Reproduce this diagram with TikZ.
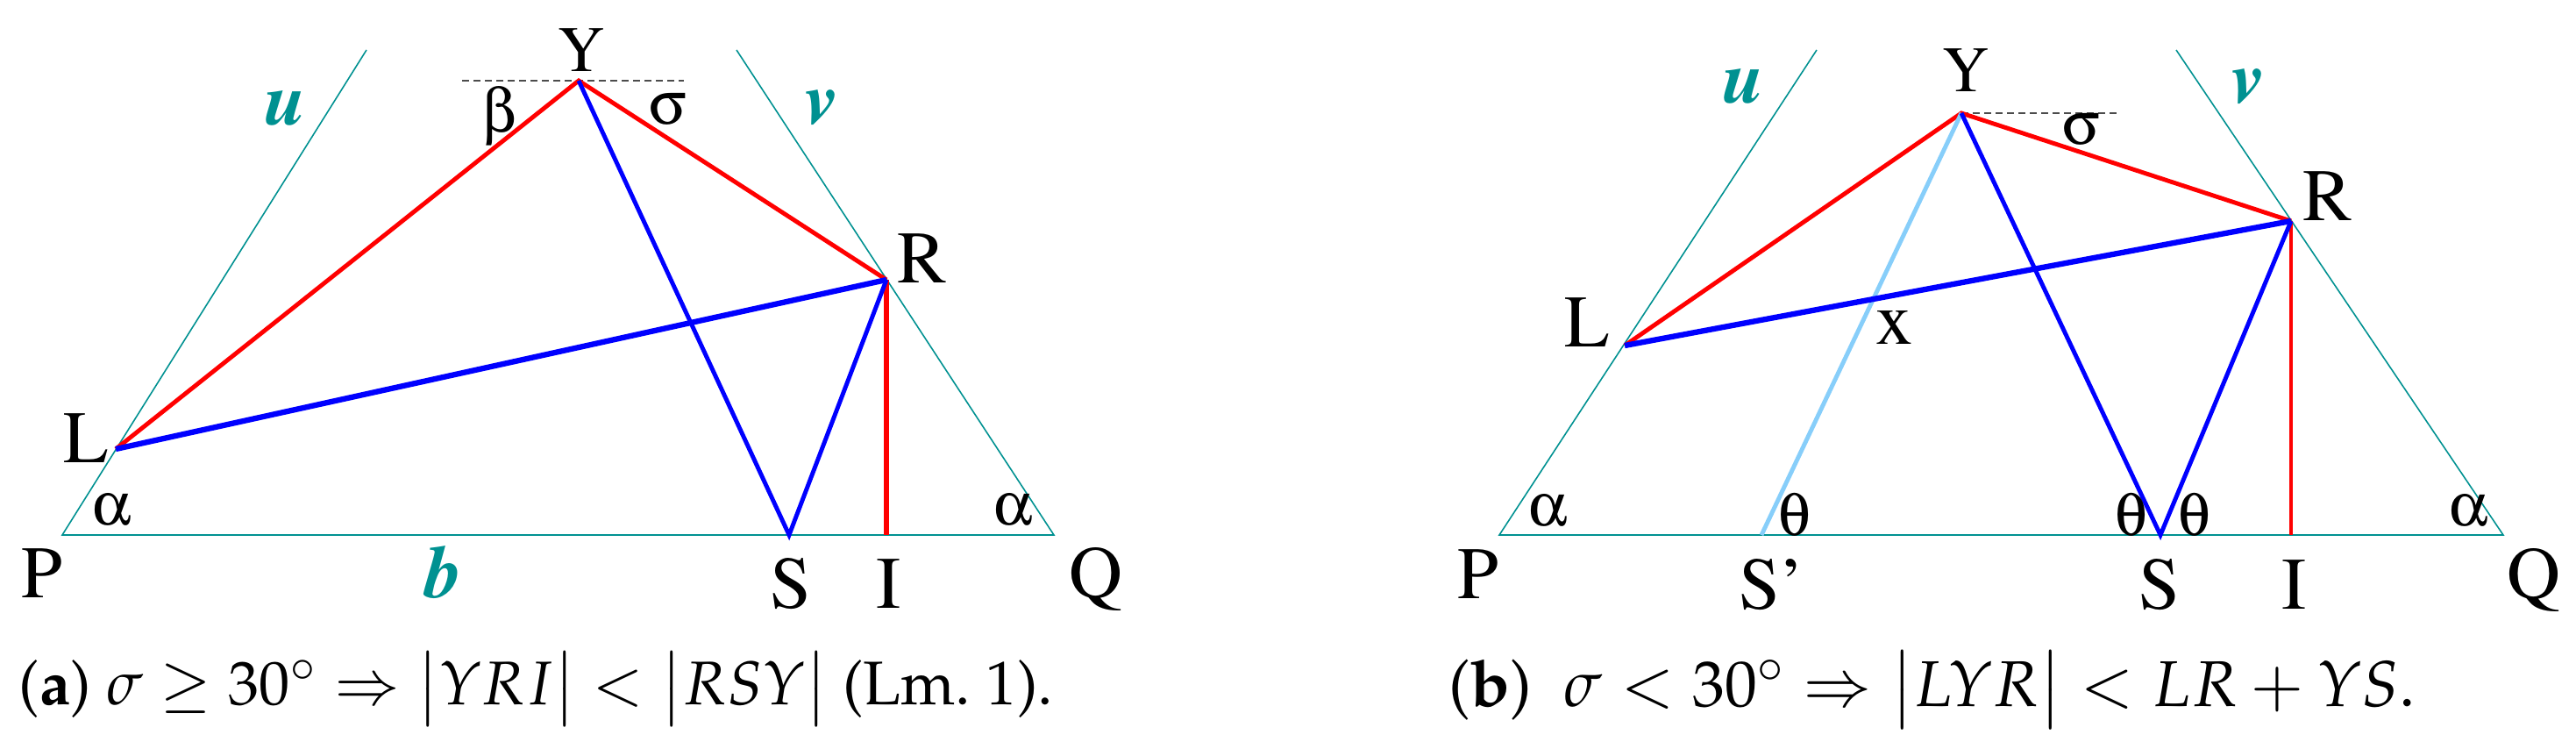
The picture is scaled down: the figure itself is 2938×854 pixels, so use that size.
\documentclass[tikz,border=0pt]{standalone}
\usepackage[T1]{fontenc}
\usepackage{mathpazo}
\usepackage{amsmath,amssymb}
\definecolor{cyanline}{RGB}{0,145,145}
\definecolor{skyline}{RGB}{135,206,250}
\newcommand{\lab}{\fontsize{24}{28}\fontfamily{ptm}\selectfont}
\newcommand{\grk}[1]{{\fontsize{20}{24}\usefont{U}{psy}{m}{n}#1}}
\newcommand{\sidelab}[1]{{\fontsize{24}{28}\selectfont\textcolor{cyanline}{\textbf{\textit{#1}}}}}
\newcommand{\capt}{\fontsize{20}{24}\selectfont}

\begin{document}
\begin{tikzpicture}[x=0.1mm,y=-0.1mm,
		side/.style={cyanline,line width=0.45pt},
		redl/.style={red,line width=1.4pt},
		bluel/.style={blue,line width=1.4pt},
		bluethick/.style={blue,line width=1.8pt},
		horiz/.style={black!70,line width=0.35pt,dash pattern=on 0.8mm off 0.5mm},
		lbl/.style={inner sep=0pt,anchor=base,font=\lab},
		toplbl/.style={lbl,font=\fontsize{21}{25}\fontfamily{ptm}\selectfont}]
	\useasboundingbox (0,0) rectangle (2938,854);
	% (a)
	\coordinate (P1) at (71,610);
	\coordinate (Q1) at (1202,610);
	\coordinate (U1) at (418,57);
	\coordinate (V1) at (840,57);
	\coordinate (Y1) at (660,92);
	\coordinate (L1) at (132,512);
	\coordinate (R1) at (1011,319);
	\coordinate (S1) at (900,610);
	\coordinate (I1) at (1011,610);
	\coordinate (Ya1) at (527,92);
	\coordinate (Yb1) at (780,92);
	\draw[side] (U1) -- (P1) -- (Q1) -- (V1);
	\draw[horiz] (Ya1) -- (Yb1);
	\draw[redl] (L1) -- (Y1) -- (R1);
	\draw[redl,line width=1.6pt] (R1) -- (I1);
	\draw[bluel] (Y1) -- (S1) -- (R1);
	\draw[bluethick] (L1) -- (R1);
	\node[toplbl] (tY1) at (663,82) {Y};
	\node[lbl] (tu1) at (326,143) {\sidelab{u}};
	\node[lbl] (tv1) at (937,142) {\sidelab{v}};
	\node[lbl] (tb1) at (570,151) {\grk{b}};
	\node[lbl] (ts1) at (762,142) {\grk{s}};
	\node[lbl] (tR1) at (1052,323) {R};
	\node[lbl] (tL1) at (98,527) {L};
	\node[lbl] (ta1) at (128,598) {\grk{a}};
	\node[lbl] (tA1) at (1156,598) {\grk{a}};
	\node[lbl] (tP1) at (48,681) {P};
	\node[lbl] (tbb) at (506,681) {\sidelab{b}};
	\node[lbl] (tS1) at (902,693) {S};
	\node[lbl] (tI1) at (1014,693) {I};
	\node[lbl] (tQ1) at (1250,681) {Q};
	\node[inner sep=0pt,anchor=base west,font=\capt] (capa) at (21,803)
		{(\textbf{a}) $\sigma \geq 30^\circ \Rightarrow \bigl|YRI\bigr| < \bigl|RSY\bigr|$ (Lm.~1).};
	% (b)
	\coordinate (P2) at (1710,610);
	\coordinate (Q2) at (2855,610);
	\coordinate (U2) at (2072,57);
	\coordinate (V2) at (2482,57);
	\coordinate (Y2) at (2237,129);
	\coordinate (L2) at (1853,394);
	\coordinate (R2) at (2613,252);
	\coordinate (S2) at (2464,610);
	\coordinate (Sp2) at (2009,610);
	\coordinate (I2) at (2613,610);
	\coordinate (Yb2) at (2417,129);
	\draw[side] (U2) -- (P2) -- (Q2) -- (V2);
	\draw[horiz] (Y2) -- (Yb2);
	\draw[redl] (L2) -- (Y2) -- (R2);
	\draw[redl,line width=1.3pt] (R2) -- (I2);
	\draw[skyline,line width=1.4pt] (Y2) -- (Sp2);
	\draw[bluel] (Y2) -- (S2) -- (R2);
	\draw[bluethick] (L2) -- (R2);
	\node[toplbl] (tY2) at (2242,105) {Y};
	\node[lbl] (tu2) at (1989,118) {\sidelab{u}};
	\node[lbl] (tv2) at (2564,118) {\sidelab{v}};
	\node[lbl] (ts2) at (2374,165) {\grk{s}};
	\node[lbl] (tR2) at (2655,252) {R};
	\node[lbl] (tL2) at (1810,395) {L};
	\node[lbl] (tX2) at (2161,393) {x};
	\node[lbl] (ta2) at (1766,599) {\grk{a}};
	\node[lbl] (tq2) at (2047,610) {\grk{q}};
	\node[lbl] (tq3) at (2431,610) {\grk{q}};
	\node[lbl] (tq4) at (2503,610) {\grk{q}};
	\node[lbl] (tA2) at (2816,599) {\grk{a}};
	\node[lbl] (tP2) at (1686,682) {P};
	\node[lbl] (tSp2) at (2021,694) {S'};
	\node[lbl] (tS2) at (2463,694) {S};
	\node[lbl] (tI2) at (2617,694) {I};
	\node[lbl] (tQ2) at (2890,682) {Q};
	\node[inner sep=0pt,anchor=base west,font=\fontsize{21}{25}\selectfont] (capb) at (1652,805)
		{(\textbf{b})\enspace$\sigma < 30^\circ \Rightarrow \bigl|LYR\bigr| < LR + YS$.};
\end{tikzpicture}
\end{document}
